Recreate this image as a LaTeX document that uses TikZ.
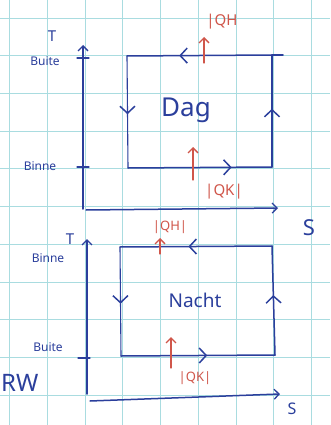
\documentclass[tikz,border=0pt]{standalone}
\usepackage{fontspec}
\setsansfont{Noto Sans}
\usetikzlibrary{arrows.meta,decorations.markings}
\definecolor{inkblue}{HTML}{2B3F9C}
\definecolor{inkred}{HTML}{D0564A}
\definecolor{gridcyan}{HTML}{A9DCE0}
\tikzset{
  ink/.style={draw=inkblue,line width=1.5pt,line cap=round,line join=round},
  thinink/.style={draw=inkblue,line width=1.1pt,line cap=round,line join=round},
  redink/.style={draw=inkred,line width=1.3pt,line cap=round},
  gridline/.style={draw=gridcyan,line width=0.8pt},
  tip/.style={-{Straight Barb[length=5pt,width=10pt,line width=1.3pt]}},
  midarr/.style={postaction={decorate},decoration={markings,
     mark=at position #1 with {\arrow[inkblue,line width=1.5pt]{Straight Barb[length=7pt,width=15pt]}}}},
  axlbl/.style={text=inkblue,font=\sffamily\fontsize{12}{12}\selectfont,inner sep=0pt},
  tlbl/.style={text=inkblue,font=\sffamily\fontsize{15}{15}\selectfont,inner sep=0pt},
  bigtxt/.style={text=inkblue,font=\sffamily\fontsize{26}{26}\selectfont,inner sep=0pt},
  midtxt/.style={text=inkblue,font=\sffamily\fontsize{19}{19}\selectfont,inner sep=0pt},
  heat/.style={text=inkred,font=\sffamily\fontsize{15}{15}\selectfont,inner sep=0pt},
  axname/.style={text=inkblue,font=\sffamily\fontsize{22}{22}\selectfont,inner sep=0pt},
}
\begin{document}
\begin{tikzpicture}[x=1pt,y=-1pt]
\useasboundingbox (0,0) rectangle (330,425);
\clip (0,0) rectangle (330,425);
\fill[white] (0,0) rectangle (330,425);
% grid
\foreach \k in {0,...,8} {\draw[gridline] ({9.5+37.75*\k},0) -- ({9.5+37.75*\k},425);}
\foreach \k in {0,...,10} {\draw[gridline] (0,{18+37.7*\k}) -- (330,{18+37.7*\k});}

% ---------- top diagram (Dag) ----------
\coordinate (o1) at (83,209);
\coordinate (y1) at (83,45);
\coordinate (x1s) at (86,210);
\coordinate (x1) at (278,208);
\draw[ink,tip] (o1) -- (y1);
\draw[ink,tip] (x1s) -- (x1);
\coordinate (t1a) at (77,58); \coordinate (t1b) at (89,58);
\coordinate (t2a) at (77,167); \coordinate (t2b) at (89,167);
\draw[thinink] (t1a) -- (t1b);
\draw[thinink] (t2a) -- (t2b);
\node[tlbl] (T1) at (52,36) {T};
\node[axlbl] (buite1) at (45,61) {Buite};
\node[axlbl] (binne1) at (40,166) {Binne};
\node[axname] (S1) at (309,228) {S};

\coordinate (tl1) at (127,56);
\coordinate (tr1) at (272,55);
\coordinate (tre1) at (283,55);
\coordinate (br1) at (272,167);
\coordinate (bl1) at (128,168);
\draw[ink] (tr1) -- (tre1);
\draw[ink,midarr=0.64] (tr1) -- (tl1);
\draw[thinink,midarr=0.52] (tl1) -- (bl1);
\draw[ink,midarr=0.72] (bl1) -- (br1);
\draw[thinink,midarr=0.52] (br1) -- (tr1);
\node[bigtxt] (dag) at (186,110) {Dag};

\coordinate (qh1a) at (204,63); \coordinate (qh1b) at (204,37);
\draw[redink,tip] (qh1a) -- (qh1b);
\node[heat] (QH1) at (222,22) {|QH};
\coordinate (qk1a) at (193,180); \coordinate (qk1b) at (193,147);
\draw[redink,tip] (qk1a) -- (qk1b);
\node[heat] (QK1) at (224,192) {|QK|};

% ---------- bottom diagram (Nacht) ----------
\coordinate (o2) at (87,394);
\coordinate (y2) at (87,239);
\coordinate (x2s) at (90,401);
\coordinate (x2) at (280,394);
\draw[ink,tip] (o2) -- (y2);
\draw[ink,tip] (x2s) -- (x2);
\coordinate (t3a) at (78,358); \coordinate (t3b) at (90,358);
\draw[thinink] (t3a) -- (t3b);
\node[tlbl] (T2) at (70,239) {T};
\node[axlbl] (binne2) at (48,258) {Binne};
\node[axlbl] (buite2) at (48,347) {Buite};
\node[axname,font=\sffamily\fontsize{24}{24}\selectfont,anchor=west] (RW) at (1,383) {RW};
\node[axname,font=\sffamily\fontsize{16}{16}\selectfont] (S2) at (292,409) {S};

\coordinate (tl2) at (120,247);
\coordinate (tr2) at (272,246);
\coordinate (br2) at (275,355);
\coordinate (bl2) at (121,356);
\draw[ink,midarr=0.55] (tr2) -- (tl2);
\draw[thinink,midarr=0.52] (tl2) -- (bl2);
\draw[ink,midarr=0.56] (bl2) -- (br2);
\draw[ink,midarr=0.55] (br2) -- (tr2);
\node[midtxt] (nacht) at (195,300) {Nacht};

\coordinate (qh2a) at (160,254); \coordinate (qh2b) at (160,238);
\draw[redink,tip] (qh2a) -- (qh2b);
\node[heat,font=\sffamily\fontsize{13}{13}\selectfont] (QH2) at (170,227) {|QH|};
\coordinate (qk2a) at (171,368); \coordinate (qk2b) at (171,337);
\draw[redink,tip] (qk2a) -- (qk2b);
\node[heat,font=\sffamily\fontsize{13}{13}\selectfont] (QK2) at (195,378) {|QK|};
\end{tikzpicture}
\end{document}
